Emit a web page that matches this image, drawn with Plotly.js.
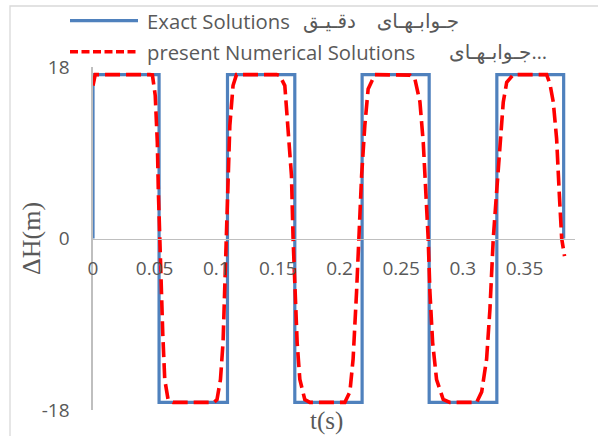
<!DOCTYPE html>
<html>
<head>
<meta charset="utf-8">
<script src="https://cdn.plot.ly/plotly-3.0.1.min.js"></script>
<style>
  html, body { margin: 0; padding: 0; background: #ffffff; }
  #chart { width: 598px; height: 436px; }
</style>
</head>
<body>
<div id="chart"></div>
<script>
// Pressure-head fluctuation ΔH (m) against time t (s)

// Exact (square-wave) solution
const timeExact = [0, 0, 0.0536, 0.0536, 0.1091, 0.1091, 0.1637, 0.1637,
                   0.2183, 0.2183, 0.2727, 0.2727, 0.3276, 0.3276, 0.3818, 0.3818];
const headExact = [0, 17.2, 17.2, -17.2, -17.2, 17.2, 17.2, -17.2,
                   -17.2, 17.2, 17.2, -17.2, -17.2, 17.2, 17.2, 0];

// Present numerical solution
const timeNum = [
  0, 0.0018, 0.046, 0.0482, 0.0505, 0.0522, 0.0530, 0.0541, 0.0553, 0.0566, 0.0582, 0.0609, 0.0649,
  0.098, 0.1006, 0.1034, 0.1055, 0.1069, 0.1083, 0.1096, 0.111, 0.1136, 0.1164,
  0.149, 0.1515, 0.1556, 0.1583, 0.161, 0.1623, 0.1637, 0.1656, 0.1678, 0.1718, 0.1759,
  0.2043, 0.2084, 0.211, 0.2138, 0.2157, 0.2179, 0.2205, 0.2232, 0.2287,
  0.253, 0.2571, 0.2611, 0.2652, 0.2679, 0.27, 0.2719, 0.2733, 0.2755, 0.2787, 0.2841, 0.2895,
  0.3112, 0.3153, 0.3193, 0.322, 0.3247, 0.3274, 0.3301, 0.3328, 0.3356, 0.3409,
  0.368, 0.3707, 0.3734, 0.3761, 0.3782, 0.3802, 0.3825
];
const headNum = [
  16.05, 17.2, 17.2, 17.17, 15.0, 10.0, 5.0, 0, -5.0, -10.0, -14.8, -16.9, -17.2,
  -17.2, -16.9, -14.8, -10.9, -5.6, 0, 6.6, 11.85, 16.05, 17.2,
  17.2, 17.1, 16.05, 11.85, 6.6, 0, -5.65, -10.9, -14.8, -16.9, -17.2,
  -17.2, -16.1, -12.65, -5.6, 0, 6.6, 11.85, 15.7, 17.2,
  17.2, 17.15, 16.75, 14.35, 10.1, 4.9, 0, -5.6, -10.9, -14.8, -16.9, -17.2,
  -17.2, -16.1, -12.65, -7.4, 0, 4.85, 10.1, 14.3, 16.4, 17.2,
  17.2, 16.2, 14.3, 10.45, 4.85, 0, -1.85
];

const xTickVals = [0, 0.05, 0.1, 0.15, 0.2, 0.25, 0.3, 0.35];
const xTickText = ['0', '0.05', '0.1', '0.15', '0.2', '0.25', '0.3', '0.35'];
const yTickVals = [-18, 0, 18];
const yTickText = ['-18', '0', '18'];

const seriesEnglish = ['Exact Solutions', 'present Numerical Solutions'];
const seriesPersian = ['جـوابـهـای\u00A0\u00A0\u00A0\u00A0دقـیـق', 'جـوابـهـای…'];

const xTitle = 't(s)';
const yTitle = 'ΔH(m)';

const BLUE = '#4F81BD';
const RED = '#FF0000';
const INK = '#595959';
const AXIS = '#BFBFBF';
const SANS = '"Open Sans", "DejaVu Sans", sans-serif';
const SERIF = '"Liberation Serif", "DejaVu Serif", serif';

// plot-area geometry (px) used to place the legend and frame in paper units
const W = 598, H = 436;
const M = { l: 93, r: 23, t: 67, b: 26 };
const PW = W - M.l - M.r, PH = H - M.t - M.b;
const px = x => (x - M.l) / PW;
const py = y => (H - M.b - y) / PH;

const traces = [
  {
    x: timeExact, y: headExact, type: 'scatter', mode: 'lines',
    name: seriesEnglish[0], showlegend: false,
    line: { color: BLUE, width: 3.2 }
  },
  {
    x: timeNum, y: headNum, type: 'scatter', mode: 'lines',
    name: seriesEnglish[1], showlegend: false,
    line: { color: RED, width: 3.6, dash: '15px,6px' }
  }
];

const legendRows = [20.7, 51.7];
const shapes = [
  // chart-area frame
  { type: 'rect', xref: 'paper', yref: 'paper', layer: 'below',
    x0: px(10), x1: px(W + 20), y0: py(H + 20), y1: py(6),
    line: { color: '#D9D9D9', width: 1.3 } },
  // legend keys
  { type: 'line', xref: 'paper', yref: 'paper',
    x0: px(70), x1: px(138), y0: py(legendRows[0]), y1: py(legendRows[0]),
    line: { color: BLUE, width: 3.2 } },
  { type: 'line', xref: 'paper', yref: 'paper',
    x0: px(70), x1: px(138), y0: py(legendRows[1]), y1: py(legendRows[1]),
    line: { color: RED, width: 3.6, dash: '8px,3.5px' } }
];

const annotations = [
  { text: seriesEnglish[0], xref: 'paper', yref: 'paper', x: px(145), y: py(legendRows[0]),
    xanchor: 'left', yanchor: 'middle', showarrow: false, font: { family: SANS, size: 20.3, color: INK } },
  { text: seriesPersian[0], xref: 'paper', yref: 'paper', x: px(461), y: py(legendRows[0]),
    xanchor: 'right', yanchor: 'middle', showarrow: false, font: { family: SANS, size: 20, color: INK } },
  { text: seriesEnglish[1], xref: 'paper', yref: 'paper', x: px(145), y: py(legendRows[1]),
    xanchor: 'left', yanchor: 'middle', showarrow: false, font: { family: SANS, size: 20.3, color: INK } },
  { text: seriesPersian[1], xref: 'paper', yref: 'paper', x: px(549), y: py(legendRows[1]),
    xanchor: 'right', yanchor: 'middle', showarrow: false, font: { family: SANS, size: 20, color: INK } },
  // axis titles
  { text: xTitle, xref: 'paper', yref: 'paper', x: px(326), y: py(421),
    xanchor: 'center', yanchor: 'middle', showarrow: false, font: { family: SERIF, size: 25, color: INK } },
  { text: yTitle, xref: 'paper', yref: 'paper', x: px(31), y: py(239),
    xanchor: 'center', yanchor: 'middle', textangle: -90, showarrow: false,
    font: { family: SERIF, size: 26, color: INK } }
];

const layout = {
  width: W, height: H,
  margin: M,
  paper_bgcolor: '#ffffff', plot_bgcolor: '#ffffff',
  showlegend: false,
  xaxis: {
    range: [0, 0.391],
    anchor: 'free', position: 0.5,
    tickvals: xTickVals, ticktext: xTickText,
    showline: true, linecolor: AXIS, linewidth: 1.6,
    showgrid: false, zeroline: false, ticks: '',
    ticklabelstandoff: 12,
    tickfont: { family: SANS, size: 19, color: INK }
  },
  yaxis: {
    range: [-18, 18],
    tickvals: yTickVals, ticktext: yTickText,
    showline: true, linecolor: AXIS, linewidth: 1.6,
    showgrid: false, zeroline: false, ticks: '',
    ticklabelstandoff: 18,
    tickfont: { family: SANS, size: 19, color: INK }
  },
  shapes: shapes,
  annotations: annotations
};

Plotly.newPlot('chart', traces, layout, { staticPlot: true, displayModeBar: false });
</script>
</body>
</html>
